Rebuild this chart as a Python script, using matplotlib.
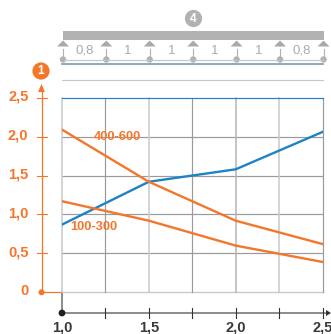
"""Continuous beam chart: coefficient vs span ratio."""
import matplotlib
matplotlib.use("Agg")
import matplotlib.pyplot as plt
from matplotlib.patches import Circle, Polygon, Rectangle

plt.rcParams["font.family"] = ["Liberation Sans", "DejaVu Sans"]

W, H = 331, 334
ORANGE = "#f4762a"
BLUE = "#1f82c4"
GREY = "#9a9a9c"
LIGHT = "#c8c9cb"

x_values = [1.0, 1.5, 2.0, 2.5]
blue_curve = [0.87, 1.42, 1.58, 2.06]
load_400_600 = [2.09, 1.42, 0.92, 0.62]
load_100_300 = [1.17, 0.92, 0.60, 0.39]

y_ticks = [0, 0.5, 1.0, 1.5, 2.0, 2.5]
y_tick_labels = ["0", "0,5", "1,0", "1,5", "2,0", "2,5"]
x_major = [1.0, 1.5, 2.0, 2.5]
x_major_labels = ["1,0", "1,5", "2,0", "2,5"]
x_minor = [1.25, 1.75, 2.25]
span_labels = ["0,8", "1", "1", "1", "1", "0,8"]

PLOT_L, PLOT_R = 62, 322.5
PLOT_T, PLOT_B = 97.7, 292.3


def main():
    fig = plt.figure(figsize=(W / 100, H / 100), dpi=100)

    # overlay in pixel coordinates for the beam sketch and axis furniture
    deco = fig.add_axes([0, 0, 1, 1], zorder=1)
    deco.set_xlim(0, W)
    deco.set_ylim(H, 0)
    deco.set_axis_off()

    ax = fig.add_axes([PLOT_L / W, 1 - PLOT_B / H, (PLOT_R - PLOT_L) / W,
                       (PLOT_B - PLOT_T) / H], zorder=2)
    ax.patch.set_alpha(0)
    ax.set_xlim(1.0, 2.5)
    ax.set_ylim(0, 2.5)
    ax.set_xticks([])
    ax.set_yticks([])
    for s in ax.spines.values():
        s.set_visible(False)

    # grid
    for v in y_ticks[1:-1]:
        ax.axhline(v, color=GREY, lw=0.85, zorder=1)
    ax.axhline(0, color=LIGHT, lw=1.0, zorder=1, clip_on=False)
    ax.axhline(2.5, color=BLUE, lw=0.85, zorder=2, clip_on=False)
    for v in [1.0, 1.5, 2.0, 2.25]:
        ax.axvline(v, color=LIGHT if v != 2.0 else "#b4b5b7", lw=1.1, zorder=1,
                   clip_on=False)
    for v in [1.25, 1.75, 2.5]:
        ax.axvline(v, color=GREY, lw=0.85, zorder=1, clip_on=False)

    # curves
    ax.plot(x_values, blue_curve, color=BLUE, lw=1.7, zorder=3,
            solid_joinstyle="round")
    ax.plot(x_values, load_400_600, color=ORANGE, lw=1.7, zorder=4)
    ax.plot(x_values, load_100_300, color=ORANGE, lw=1.7, zorder=4)
    ax.text(1.18, 1.99, "400-600", color=ORANGE, fontsize=9.3, fontweight="bold",
            ha="left", va="center", zorder=5)
    ax.text(1.05, 0.84, "100-300", color=ORANGE, fontsize=9.3, fontweight="bold",
            ha="left", va="center", zorder=5)

    # y axis, orange
    deco.plot([41.5, 41.5], [90, 292], color=ORANGE, lw=0.9)
    deco.add_patch(Polygon([[41.5, 84], [38, 92], [45, 92]], fc=ORANGE, ec="none"))
    deco.plot([41, 62], [292.3, 292.3], color=ORANGE, lw=0.9)
    deco.add_patch(Circle((41.5, 292.3), 3.0, fc=ORANGE, ec="none"))
    for v, lab in zip(y_ticks, y_tick_labels):
        py = H - ax.transData.transform((1.0, v))[1]
        if v > 0:
            deco.plot([36.5, 47], [py, py], color=ORANGE, lw=0.8)
        deco.text(28.5, py - 1, lab, color=ORANGE, fontsize=10.5, fontweight="bold",
                  ha="right", va="center")
    deco.add_patch(Circle((41, 71), 8.6, fc=ORANGE, ec="none"))
    deco.text(41, 71, "1", color="white", fontsize=8.5, fontweight="bold",
              ha="center", va="center")

    # x axis
    deco.plot([62, 62], [292.3, 313], color="#77787a", lw=1.2)
    deco.plot([62, 325], [313, 313], color="#77787a", lw=1.2)
    deco.add_patch(Polygon([[326, 310], [331, 313], [326, 316]], fc="#333333", ec="none"))
    deco.add_patch(Circle((62, 313), 3.4, fc="#231f20", ec="none", zorder=5))
    for v in x_major[1:] + x_minor:
        px = ax.transData.transform((v, 0))[0]
        deco.plot([px, px], [308, 318], color="#333333", lw=0.8)
    for v, lab in zip(x_major, x_major_labels):
        px = ax.transData.transform((v, 0))[0]
        deco.text(px, 327, lab, color="#3a3a3c", fontsize=10.5, fontweight="bold",
                  ha="center", va="center", clip_on=False)

    # beam sketch on top
    sup = [63.0, 106.3, 149.7, 193.2, 236.6, 280.0, 323.5]
    deco.add_patch(Rectangle((63, 31), 261, 9, fc="#b1b2b4", ec="none"))
    deco.plot([63, 323.5], [59.5, 59.5], color=LIGHT, lw=0.9)
    deco.plot([62, 323], [63.5, 63.5], color="#7ea6bf", lw=1.3)
    deco.plot([62, 323], [79.5, 79.5], color=LIGHT, lw=0.85)
    for px in sup:
        deco.add_patch(Polygon([[px, 40.5], [px - 6, 46.5], [px + 6, 46.5]],
                               fc="#a8a9ab", ec="none"))
        deco.plot([px, px], [49, 59.5], color="#b1b2b4", lw=0.8)
        deco.add_patch(Circle((px, 59.5), 3.2, fc="#b1b2b4", ec="none"))
    for i, lab in enumerate(span_labels):
        deco.text((sup[i] + sup[i + 1]) / 2, 50.5, lab, color="#a9aaac", fontsize=9.5,
                  ha="center", va="center")
    deco.add_patch(Circle((193.5, 18.5), 8.6, fc="#b1b2b4", ec="none"))
    deco.text(193.5, 18.5, "4", color="white", fontsize=8.5, fontweight="bold",
              ha="center", va="center")

    fig.savefig("out.png", dpi=100)
    plt.close(fig)


if __name__ == "__main__":
    main()
